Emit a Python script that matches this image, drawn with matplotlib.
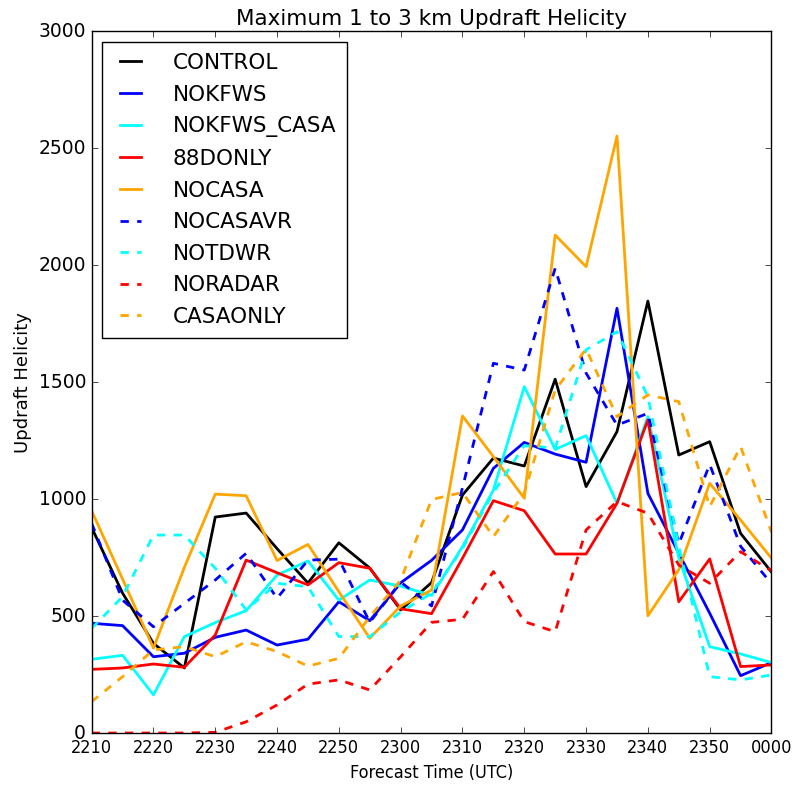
import numpy as np
import matplotlib
matplotlib.use('Agg')
import matplotlib.pyplot as plt

plt.style.use('classic')
plt.rcParams['figure.facecolor'] = 'white'
plt.rcParams['savefig.facecolor'] = 'white'

times = ['2210', '2215', '2220', '2225', '2230', '2235', '2240', '2245', '2250', '2255',
         '2300', '2305', '2310', '2315', '2320', '2325', '2330', '2335', '2340', '2345',
         '2350', '2355', '0000']

control = [880, 600, 385, 280, 925, 942, 790, 643, 815, 707, 528, 645, 1019, 1177,
           1143, 1514, 1055, 1290, 1848, 1190, 1247, 855, 690]
nokfws = [471, 461, 328, 343, 411, 442, 378, 403, 563, 482, 644, 740, 870, 1133,
          1244, 1194, 1159, 1817, 1026, 770, 514, 247, 303]
nokfws_casa = [317, 334, 165, 414, 474, 525, 677, 737, 570, 656, 630, 590, 798, 1040,
               1482, 1214, 1273, 984, 1354, 750, 371, 340, 303]
only88d = [274, 280, 297, 283, 421, 741, 687, 635, 730, 706, 533, 512, 749, 995,
           952, 767, 767, 984, 1340, 563, 746, 286, 293]
nocasa = [952, 660, 365, 710, 1023, 1016, 739, 808, 606, 407, 545, 613, 1357, 1183,
          1005, 2130, 1995, 2553, 503, 700, 1069, 912, 749]
nocasavr = [898, 570, 456, 556, 656, 770, 578, 741, 745, 475, 647, 545, 1050, 1582,
            1553, 1988, 1540, 1318, 1368, 810, 1150, 800, 640]
notdwr = [449, 585, 848, 848, 706, 528, 642, 627, 414, 414, 520, 599, 790, 1030,
          1230, 1220, 1640, 1717, 1440, 800, 243, 229, 250]
noradar = [2, 2, 2, 2, 5, 50, 122, 211, 229, 186, 328, 475, 488, 692, 478, 435,
           870, 991, 941, 720, 642, 777, 695]
casaonly = [136, 243, 357, 371, 328, 392, 350, 288, 321, 499, 655, 1000, 1030, 841,
            1028, 1468, 1643, 1354, 1447, 1418, 969, 1226, 860]

x = np.arange(len(times))

fig = plt.figure(figsize=(7.97, 7.91), dpi=100)
ax = fig.add_axes([0.115, 0.0727, 0.853, 0.8875])

ax.plot(x, control, color='black', lw=2, label='CONTROL')
ax.plot(x, nokfws, color='blue', lw=2, label='NOKFWS')
ax.plot(x, nokfws_casa, color='cyan', lw=2, label='NOKFWS_CASA')
ax.plot(x, only88d, color='red', lw=2, label='88DONLY')
ax.plot(x, nocasa, color='orange', lw=2, label='NOCASA')
ax.plot(x, nocasavr, color='blue', lw=2, ls='--', label='NOCASAVR')
ax.plot(x, notdwr, color='cyan', lw=2, ls='--', label='NOTDWR')
ax.plot(x, noradar, color='red', lw=2, ls='--', label='NORADAR')
ax.plot(x, casaonly, color='orange', lw=2, ls='--', label='CASAONLY')

ax.set_xlim(0, len(times) - 1)
ax.set_ylim(0, 3000)
ax.set_xticks(x[::2])
ax.set_xticklabels(times[::2], fontsize=13, fontstretch='condensed')
ax.set_yticks(np.arange(0, 3001, 500))
ax.tick_params(axis='y', labelsize=13.5)

ax.set_title('Maximum 1 to 3 km Updraft Helicity', fontsize=15.5)
ax.set_xlabel('Forecast Time (UTC)', fontsize=13, fontstretch='condensed')
ax.set_ylabel('Updraft Helicity', fontsize=13)

ax.legend(loc='upper left', fontsize=15.5, frameon=True, handlelength=1.6,
          handletextpad=1.15, borderpad=0.5, labelspacing=0.54)

fig.savefig('out.png', dpi=100)
